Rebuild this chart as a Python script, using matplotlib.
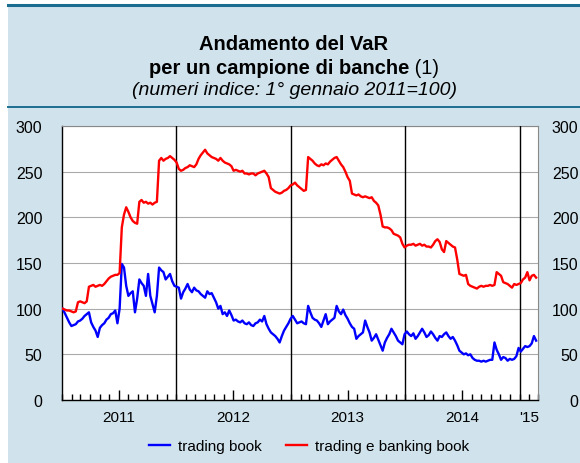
import matplotlib
matplotlib.use('Agg')
import matplotlib.pyplot as plt
import matplotlib.dates as mdates
from matplotlib.lines import Line2D
from matplotlib.patches import Rectangle
import pandas as pd

plt.rcParams['font.family'] = ['Liberation Sans', 'DejaVu Sans']

# weekly readings (Mondays from 3 Jan 2011), one list per year
# trading book
tb_2011 = [100, 95, 90, 85, 81, 82, 83, 86, 87, 89, 92, 94, 96, 85, 80, 76, 69, 79, 82, 84,
           88, 90, 94, 95, 98, 84, 100, 149, 145, 125, 114, 117, 119, 96, 111, 132, 128, 125,
           114, 138, 114, 105, 96, 114, 145, 142, 140, 132, 135, 138, 130, 125]
tb_2012 = [124, 123, 111, 118, 122, 127, 121, 118, 123, 120, 119, 116, 114, 112, 119, 116,
           117, 112, 107, 100, 103, 94, 96, 92, 98, 93, 87, 88, 86, 85, 87, 84, 83, 85, 82,
           81, 84, 85, 88, 86, 92, 83, 78, 74, 72, 70, 67, 63, 70, 76, 80, 84, 89]
tb_2013 = [92, 88, 84, 85, 86, 84, 83, 103, 96, 90, 88, 87, 84, 80, 87, 94, 83, 86, 88, 90,
           103, 97, 94, 99, 93, 89, 84, 80, 78, 67, 70, 72, 74, 87, 80, 74, 65, 68, 72, 66,
           60, 54, 63, 68, 72, 78, 74, 70, 65, 63, 61, 72]
tb_2014 = [75, 72, 70, 73, 67, 70, 74, 78, 74, 69, 71, 75, 72, 68, 65, 70, 69, 72, 74, 70,
           67, 69, 65, 60, 54, 52, 50, 51, 49, 50, 46, 44, 43, 43, 42, 43, 42, 43, 44, 44,
           63, 55, 50, 44, 47, 46, 43, 45, 44, 45, 48, 57]
tb_2015 = [53, 56, 59, 58, 59, 62, 70, 65]

# trading e banking book
tbb_2011 = [100, 99, 98, 98, 97, 96, 97, 107, 108, 107, 106, 108, 124, 125, 126, 124, 125,
            126, 125, 127, 130, 133, 135, 136, 137, 137, 139, 189, 203, 211, 206, 200, 196,
            194, 193, 217, 219, 216, 217, 215, 216, 214, 216, 217, 262, 265, 262, 264, 265,
            267, 265, 263]
tbb_2012 = [260, 253, 251, 252, 254, 255, 257, 256, 255, 258, 264, 268, 271, 274, 270, 268,
            266, 265, 264, 262, 265, 262, 260, 259, 258, 256, 251, 252, 251, 250, 251, 248,
            248, 247, 248, 248, 246, 248, 249, 250, 251, 248, 244, 232, 230, 228, 227, 226,
            227, 229, 230, 232, 235]
tbb_2013 = [236, 238, 235, 233, 231, 229, 230, 266, 264, 262, 259, 257, 256, 258, 257, 259,
            258, 261, 263, 265, 266, 262, 258, 255, 250, 244, 240, 226, 225, 224, 225, 223,
            222, 223, 222, 221, 222, 218, 216, 213, 203, 190, 189, 189, 188, 186, 182, 181,
            180, 178, 171, 167]
tbb_2014 = [169, 170, 170, 171, 169, 170, 171, 169, 170, 168, 168, 167, 170, 174, 176, 173,
            165, 162, 174, 172, 170, 168, 167, 154, 138, 137, 136, 137, 127, 125, 124, 123,
            122, 124, 125, 124, 125, 125, 126, 125, 126, 140, 138, 136, 129, 128, 127, 125,
            123, 127, 126, 127]
tbb_2015 = [128, 132, 134, 140, 131, 136, 137, 134]

trading = tb_2011 + tb_2012 + tb_2013 + tb_2014 + tb_2015
trading_banking = tbb_2011 + tbb_2012 + tbb_2013 + tbb_2014 + tbb_2015
dates = pd.date_range('2011-01-03', periods=len(trading), freq='W-MON')

year_breaks = ['2012-01-01', '2013-01-01', '2014-01-01', '2015-01-01']
label_dates = ['2011-07-01', '2012-07-01', '2013-07-01', '2014-07-01', '2015-02-01']
label_text = ['2011', '2012', '2013', '2014', "'15"]
y_ticks = [0, 50, 100, 150, 200, 250, 300]

W, H = 580, 464
fig = plt.figure(figsize=(W / 100, H / 100), dpi=100)
fig.patch.set_facecolor('white')

panel = '#d0e2ec'
teal = '#1b6d90'
fig.add_artist(Rectangle((8 / W, 0), 1 - 8 / W, 1 - 7 / H, transform=fig.transFigure,
                         facecolor=panel, edgecolor='none', zorder=-10))
fig.add_artist(Line2D([8 / W, 1], [1 - 6 / H] * 2, color=teal, lw=2.2))
fig.add_artist(Line2D([8 / W, 1], [1 - 107.5 / H] * 2, color=teal, lw=1.4))

# titles
cx = 294 / W
fig.text(cx, 1 - 50 / H, 'Andamento del VaR', ha='center', va='baseline',
         fontsize=14.5, fontweight='bold')
renderer = fig.canvas.get_renderer()
t1 = fig.text(0, 1 - 74 / H, 'per un campione di banche', ha='left', va='baseline',
              fontsize=14.5, fontweight='bold')
t2 = fig.text(0, 1 - 74 / H, ' (1)', ha='left', va='baseline', fontsize=14.5)
w1 = t1.get_window_extent(renderer).width / W
w2 = t2.get_window_extent(renderer).width / W
t1.set_x(cx - (w1 + w2) / 2)
t2.set_x(cx - (w1 + w2) / 2 + w1)
fig.text(cx, 1 - 95 / H, '(numeri indice: 1° gennaio 2011=100)', ha='center',
         va='baseline', fontsize=14, fontstyle='italic')

ax = fig.add_axes([62 / W, 63 / H, 476 / W, 274 / H])
ax.set_facecolor('white')
ax.plot(dates, trading, color='#0000ff', lw=1.7, label='trading book', zorder=4)
ax.plot(dates, trading_banking, color='#ff0000', lw=1.7, label='trading e banking book',
        zorder=4)
for d in year_breaks:
    ax.axvline(pd.Timestamp(d), color='black', lw=1, zorder=3)

ax.set_xlim(pd.Timestamp('2011-01-01'), pd.Timestamp('2015-03-01'))
ax.set_ylim(0, 300)
ax.set_yticks(y_ticks)
ax.grid(axis='y', color='#aaaaaa', lw=0.8)
ax.set_axisbelow(True)
ax.tick_params(axis='y', length=0, pad=14, labelsize=11.5)

ax.set_xticks([pd.Timestamp(d) for d in label_dates])
ax.set_xticklabels(label_text)
ax.xaxis.set_minor_locator(mdates.MonthLocator())
ax.tick_params(axis='x', which='both', direction='in', color='black', width=1,
               labelsize=11, pad=7)
ax.tick_params(axis='x', which='major', length=7)
ax.tick_params(axis='x', which='minor', length=4)
ax.xaxis.get_major_ticks()[-1].tick1line.set_markersize(4)

for s in ['top', 'right']:
    ax.spines[s].set_color('#888888')
    ax.spines[s].set_linewidth(0.8)
for s in ['left', 'bottom']:
    ax.spines[s].set_color('black')
    ax.spines[s].set_linewidth(1)

ax2 = ax.twinx()
ax2.set_ylim(0, 300)
ax2.set_yticks(y_ticks)
ax2.tick_params(axis='y', length=0, pad=29, labelsize=11.5)
for lab in ax2.get_yticklabels():
    lab.set_horizontalalignment('right')
for s in ax2.spines.values():
    s.set_visible(False)

ax.legend(loc='center', bbox_to_anchor=(309 / W, 17 / H), bbox_transform=fig.transFigure,
          ncol=2, frameon=False, fontsize=11, handlelength=1.4, handletextpad=0.5,
          columnspacing=1.6)

fig.savefig('out.png', dpi=100)
